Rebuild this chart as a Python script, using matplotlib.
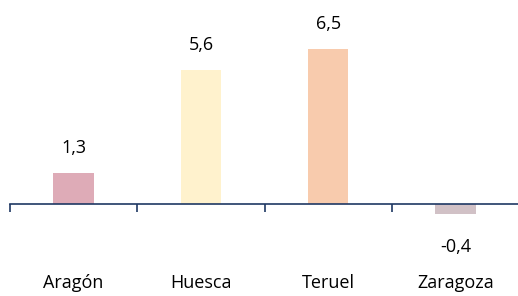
import matplotlib
matplotlib.use("Agg")
import matplotlib.pyplot as plt

categories = ["Aragón", "Huesca", "Teruel", "Zaragoza"]
values = [1.3, 5.6, 6.5, -0.4]
labels = ["1,3", "5,6", "6,5", "-0,4"]
colors = ["#DEABB7", "#FFF2CD", "#F8CBAD", "#D1C1C6"]

plt.rcParams['font.family'] = ['Open Sans', 'DejaVu Sans']

W, H = 518, 296
fig = plt.figure(figsize=(W / 100, H / 100), dpi=100)
ax = fig.add_axes([10 / W, 0, 509 / W, 1])

px_per_unit = 23.9
zero_px = 204  # from top
ymax = zero_px / px_per_unit
ymin = -(H - zero_px) / px_per_unit
ax.set_ylim(ymin, ymax)
ax.set_xlim(-0.5, len(categories) - 0.5)

x = list(range(len(categories)))
ax.bar(x, values, width=0.32, color=colors, zorder=2)

fs = 13
for xi, v, lab in zip(x, values, labels):
    if v >= 0:
        ax.text(xi, v + 25 / px_per_unit, lab, ha="center", va="center", fontsize=fs, color="black")
    else:
        ax.text(xi, v - 33 / px_per_unit, lab, ha="center", va="center", fontsize=fs, color="black")
    ax.text(xi, -(283 - zero_px) / px_per_unit, categories[xi], ha="center", va="center",
            fontsize=fs, color="black")

for s in ["top", "right", "left"]:
    ax.spines[s].set_visible(False)
ax.spines["bottom"].set_position(("data", 0))
ax.spines["bottom"].set_color("#1F3864")
ax.spines["bottom"].set_linewidth(1.2)
ax.spines["bottom"].set_zorder(3)
ax.set_yticks([])
ax.set_xticks([i - 0.5 for i in range(len(categories) + 1)])
ax.set_xticklabels([])
ax.tick_params(axis="x", direction="out", length=6, width=1.2, color="#1F3864")
ax.patch.set_alpha(0)

fig.savefig("out.png", dpi=100)
